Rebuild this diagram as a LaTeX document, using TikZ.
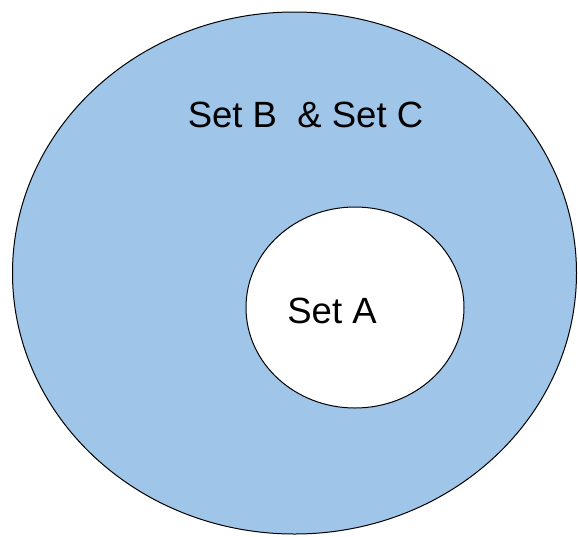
\documentclass[tikz,border=0pt]{standalone}
\usepackage{fontspec}
\setmainfont{Liberation Sans}
\definecolor{setblue}{HTML}{9FC5E8}
\tikzset{
  setshape/.style={draw=black, line width=1pt},
  setlabel/.style={font=\fontsize{36.5}{42}\selectfont, anchor=base, inner sep=0pt}
}
\begin{document}
\begin{tikzpicture}[x=1pt, y=-1pt]
\useasboundingbox[fill=white] (0,0) rectangle (578,536);
\draw[setshape, fill=setblue] (294.5,273) ellipse [x radius=282, y radius=261];
\draw[setshape, fill=white] (355,307.5) ellipse [x radius=109, y radius=100.5];
\node[setlabel] (bc) at (305.5,127) {Set B\ \ \& Set C};
\node[setlabel] (a) at (332,323) {Set A};
\end{tikzpicture}
\end{document}
